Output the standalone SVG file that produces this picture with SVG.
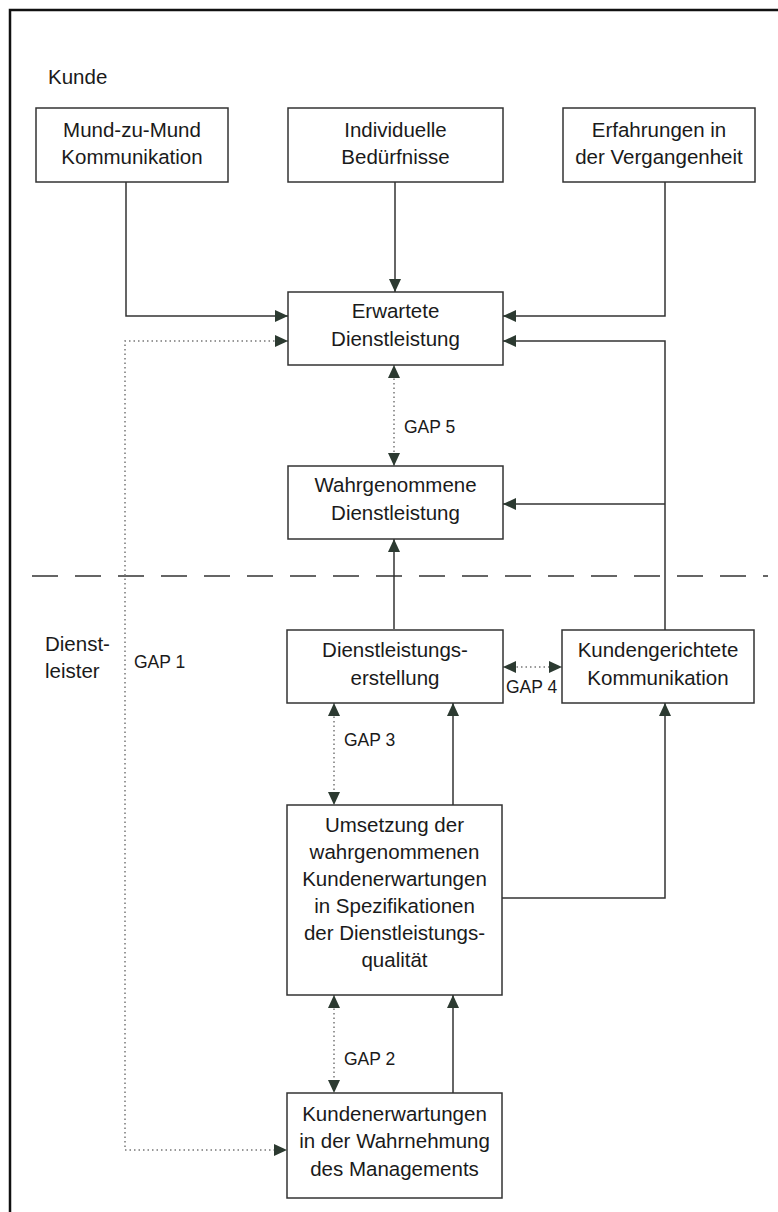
<svg xmlns="http://www.w3.org/2000/svg" width="778" height="1212" viewBox="0 0 778 1212">
<style>
.box{fill:#fff;stroke:#333;stroke-width:1.5}
.t{font-family:"Liberation Sans",Arial,sans-serif;font-size:20.5px;fill:#1a1a1a;text-anchor:middle}
.l{font-family:"Liberation Sans",Arial,sans-serif;font-size:20.5px;fill:#1a1a1a}
.g{font-family:"Liberation Sans",Arial,sans-serif;font-size:17.5px;fill:#1a1a1a}
.c{fill:none;stroke:#333;stroke-width:1.5}
.d{fill:none;stroke:#777;stroke-width:1.5;stroke-dasharray:1.5 3}
</style>
<defs>
<marker id="ah" markerUnits="userSpaceOnUse" markerWidth="13" markerHeight="12" refX="13" refY="6" orient="auto-start-reverse">
<path d="M0,0 L13,6 L0,12 Z" fill="#2c3a31"/>
</marker>
</defs>
<rect width="778" height="1212" fill="#fff"/>
<path d="M10 1212 V10 H778" fill="none" stroke="#111" stroke-width="2.5"/>
<line x1="32" y1="576" x2="768" y2="576" stroke="#333" stroke-width="1.5" stroke-dasharray="26 17"/>
<text class="l" x="48" y="84">Kunde</text>
<text class="l" x="45" y="651">Dienst-</text>
<text class="l" x="45" y="678">leister</text>

<g id="connectors">
<path class="c" d="M126 182 V316 H288" marker-end="url(#ah)"/>
<path class="c" d="M395 182 V292" marker-end="url(#ah)"/>
<path class="c" d="M665 182 V316 H503" marker-end="url(#ah)"/>
<path class="c" d="M665 630 V341 H503" marker-end="url(#ah)"/>
<path class="c" d="M665 504 H503" marker-end="url(#ah)"/>
<path class="c" d="M394 629 V539" marker-end="url(#ah)"/>
<path class="c" d="M453 805 V703" marker-end="url(#ah)"/>
<path class="c" d="M502 898 H665 V703" marker-end="url(#ah)"/>
<path class="c" d="M453 1093 V995" marker-end="url(#ah)"/>
<path class="d" d="M288 341 H125 V1150 H287" marker-start="url(#ah)" marker-end="url(#ah)"/>
<path class="d" d="M394 365 V466" marker-start="url(#ah)" marker-end="url(#ah)"/>
<path class="d" d="M503 667 H562" marker-start="url(#ah)" marker-end="url(#ah)"/>
<path class="d" d="M334 703 V805" marker-start="url(#ah)" marker-end="url(#ah)"/>
<path class="d" d="M334 995 V1093" marker-start="url(#ah)" marker-end="url(#ah)"/>
<text class="g" x="134" y="668">GAP 1</text>
<text class="g" x="344" y="1065">GAP 2</text>
<text class="g" x="344" y="746">GAP 3</text>
<text class="g" x="506" y="693">GAP 4</text>
<text class="g" x="404" y="433">GAP 5</text>
</g>

<g id="mund">
<rect class="box" x="36" y="108" width="192" height="74"/>
<text class="t" x="132" y="137">Mund-zu-Mund</text>
<text class="t" x="132" y="164">Kommunikation</text>
</g>
<g id="beduerfnisse">
<rect class="box" x="288" y="108" width="215" height="74"/>
<text class="t" x="395.5" y="137">Individuelle</text>
<text class="t" x="395.5" y="164">Bedürfnisse</text>
</g>
<g id="erfahrungen">
<rect class="box" x="563" y="108" width="192" height="74"/>
<text class="t" x="659" y="137">Erfahrungen in</text>
<text class="t" x="659" y="164">der Vergangenheit</text>
</g>
<g id="erwartete">
<rect class="box" x="288" y="292" width="215" height="73"/>
<text class="t" x="395.5" y="318">Erwartete</text>
<text class="t" x="395.5" y="346">Dienstleistung</text>
</g>
<g id="wahrgenommene">
<rect class="box" x="288" y="466" width="215" height="73"/>
<text class="t" x="395.5" y="492">Wahrgenommene</text>
<text class="t" x="395.5" y="520">Dienstleistung</text>
</g>
<g id="erstellung">
<rect class="box" x="287" y="630" width="216" height="73"/>
<text class="t" x="395" y="657">Dienstleistungs-</text>
<text class="t" x="395" y="685">erstellung</text>
</g>
<g id="kommunikation">
<rect class="box" x="562" y="630" width="192" height="73"/>
<text class="t" x="658" y="657">Kundengerichtete</text>
<text class="t" x="658" y="685">Kommunikation</text>
</g>
<g id="umsetzung">
<rect class="box" x="287" y="805" width="215" height="190"/>
<text class="t" x="394.5" y="832">Umsetzung der</text>
<text class="t" x="394.5" y="859">wahrgenommenen</text>
<text class="t" x="394.5" y="886">Kundenerwartungen</text>
<text class="t" x="394.5" y="913">in Spezifikationen</text>
<text class="t" x="394.5" y="940">der Dienstleistungs-</text>
<text class="t" x="394.5" y="967">qualität</text>
</g>
<g id="management">
<rect class="box" x="287" y="1093" width="215" height="105"/>
<text class="t" x="394.5" y="1121">Kundenerwartungen</text>
<text class="t" x="394.5" y="1148">in der Wahrnehmung</text>
<text class="t" x="394.5" y="1176">des Managements</text>
</g>
</svg>
